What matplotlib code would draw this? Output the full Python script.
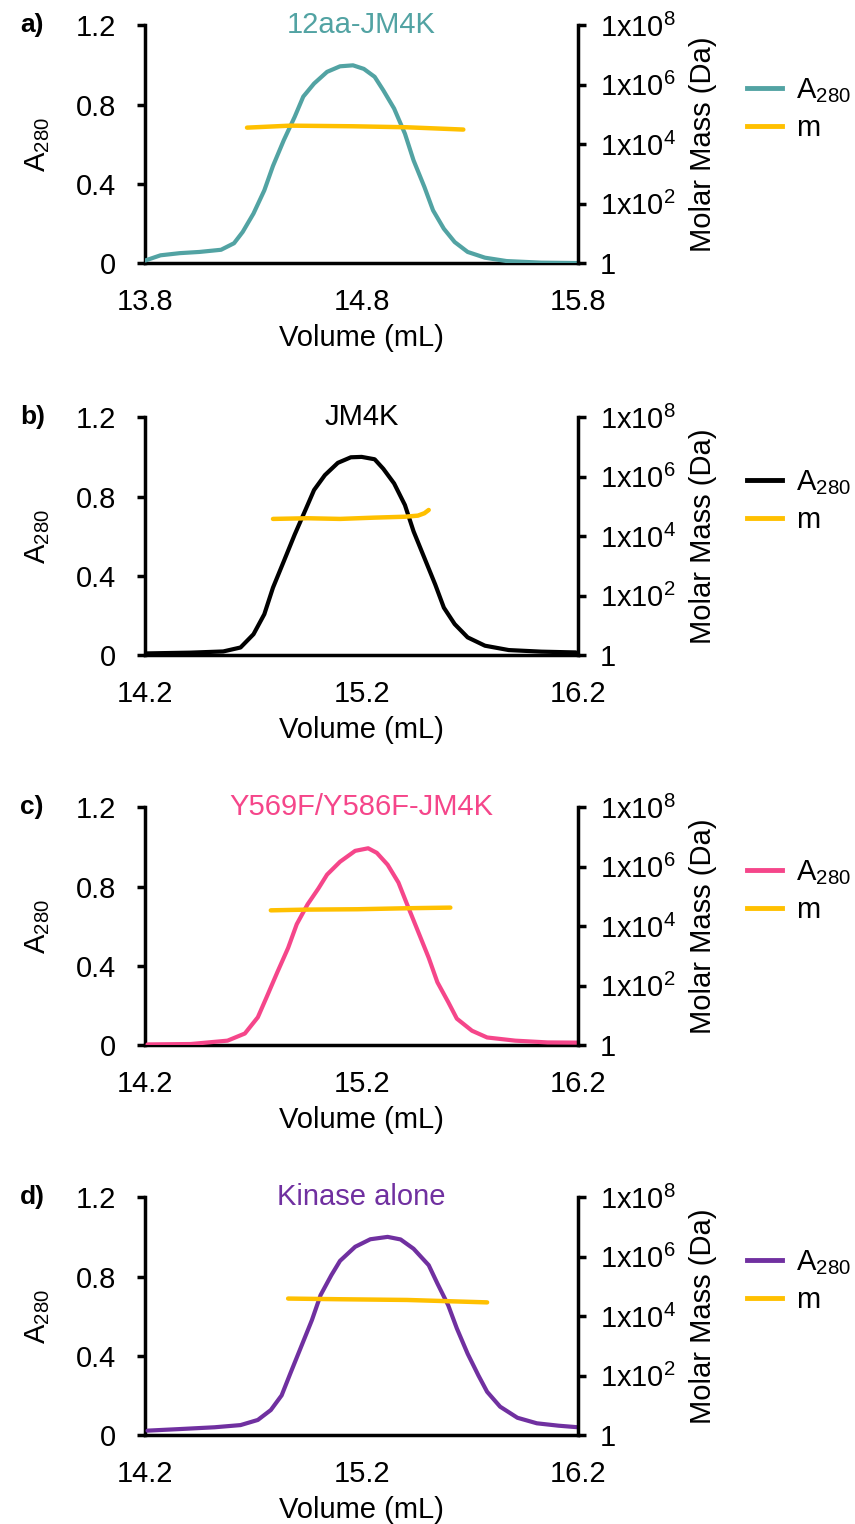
import matplotlib
matplotlib.use("Agg")
import matplotlib.pyplot as plt
from matplotlib.lines import Line2D

plt.rcParams['font.family'] = ['Liberation Sans', 'DejaVu Sans']
plt.rcParams['mathtext.fontset'] = 'custom'
plt.rcParams['mathtext.rm'] = 'Liberation Sans'
plt.rcParams['mathtext.it'] = 'Liberation Sans'

################################################
# Data

titles = ['12aa-JM4K', 'JM4K', 'Y569F/Y586F-JM4K', 'Kinase alone']
panel_tags = ['a)', 'b)', 'c)', 'd)']
colors = ['#52A3A3', '#000000', '#F5468A', '#7030A0']
mass_color = '#FFC000'
xlims = [(13.8, 15.8), (14.2, 16.2), (14.2, 16.2), (14.2, 16.2)]
xticks = [[13.8, 14.8, 15.8], [14.2, 15.2, 16.2], [14.2, 15.2, 16.2], [14.2, 15.2, 16.2]]

# A280 traces
vol_a = [13.80, 13.87, 13.96, 14.05, 14.15, 14.21, 14.25, 14.30, 14.35, 14.39, 14.44,
         14.49, 14.53, 14.58, 14.64, 14.70, 14.76, 14.81, 14.86, 14.90, 14.95, 15.00,
         15.04, 15.09, 15.13, 15.18, 15.23, 15.29, 15.37, 15.47, 15.63, 15.80]
abs_a = [0.013, 0.039, 0.050, 0.056, 0.067, 0.100, 0.157, 0.250, 0.367, 0.490, 0.620,
         0.737, 0.840, 0.906, 0.965, 0.993, 0.998, 0.980, 0.940, 0.872, 0.780, 0.653,
         0.518, 0.384, 0.266, 0.173, 0.106, 0.056, 0.027, 0.010, 0.002, 0.000]

vol_b = [14.20, 14.41, 14.56, 14.64, 14.70, 14.75, 14.79, 14.84, 14.89, 14.94, 14.98,
         15.03, 15.09, 15.15, 15.20, 15.26, 15.30, 15.35, 15.40, 15.44, 15.49, 15.54,
         15.58, 15.63, 15.69, 15.77, 15.88, 16.03, 16.19]
abs_b = [0.008, 0.012, 0.018, 0.038, 0.105, 0.206, 0.340, 0.473, 0.607, 0.732, 0.833,
         0.908, 0.970, 0.998, 1.000, 0.988, 0.940, 0.866, 0.757, 0.624, 0.490, 0.356,
         0.239, 0.156, 0.089, 0.047, 0.025, 0.017, 0.013]

vol_c = [14.21, 14.41, 14.58, 14.66, 14.72, 14.76, 14.81, 14.86, 14.90, 14.95, 15.00,
         15.04, 15.10, 15.17, 15.23, 15.27, 15.32, 15.37, 15.41, 15.46, 15.51, 15.55,
         15.60, 15.64, 15.71, 15.78, 15.91, 16.06, 16.20]
abs_c = [0.003, 0.005, 0.022, 0.058, 0.140, 0.240, 0.367, 0.490, 0.610, 0.710, 0.790,
         0.860, 0.925, 0.980, 0.993, 0.970, 0.910, 0.820, 0.710, 0.575, 0.440, 0.317,
         0.217, 0.133, 0.072, 0.038, 0.022, 0.013, 0.012]

vol_d = [14.21, 14.36, 14.52, 14.64, 14.72, 14.78, 14.83, 14.87, 14.92, 14.97, 15.01,
         15.06, 15.10, 15.17, 15.24, 15.32, 15.38, 15.44, 15.51, 15.55, 15.60, 15.64,
         15.69, 15.74, 15.78, 15.84, 15.92, 16.01, 16.11, 16.20]
abs_d = [0.022, 0.030, 0.039, 0.050, 0.076, 0.126, 0.200, 0.310, 0.445, 0.580, 0.706,
         0.807, 0.879, 0.950, 0.988, 1.000, 0.987, 0.940, 0.857, 0.765, 0.655, 0.538,
         0.410, 0.300, 0.218, 0.143, 0.087, 0.059, 0.047, 0.039]

# molar mass traces (Da)
mvol_a = [14.27, 14.47, 14.76, 15.01, 15.27]
mass_a = [3.6e4, 4.2e4, 4.0e4, 3.7e4, 3.1e4]
mvol_b = [14.79, 14.95, 15.10, 15.26, 15.40, 15.46, 15.49, 15.51]
mass_b = [3.8e4, 4.0e4, 3.8e4, 4.2e4, 4.5e4, 4.9e4, 5.9e4, 7.6e4]
mvol_c = [14.78, 14.95, 15.18, 15.41, 15.61]
mass_c = [3.4e4, 3.6e4, 3.7e4, 4.0e4, 4.2e4]
mvol_d = [14.86, 15.10, 15.41, 15.78]
mass_d = [3.9e4, 3.7e4, 3.5e4, 2.9e4]

vols = [vol_a, vol_b, vol_c, vol_d]
absorb = [abs_a, abs_b, abs_c, abs_d]
mvols = [mvol_a, mvol_b, mvol_c, mvol_d]
masses = [mass_a, mass_b, mass_c, mass_d]

left_ticks = [0, 0.4, 0.8, 1.2]
left_labels = ['0', '0.4', '0.8', '1.2']
right_ticks = [1, 1e2, 1e4, 1e6, 1e8]
right_labels = ['1', r'1x10$^{2}$', r'1x10$^{4}$', r'1x10$^{6}$', r'1x10$^{8}$']

################################################
# Figure

fig = plt.figure(figsize=(8.55, 15.24), dpi=100)
bottoms = [0.8274, 0.5702, 0.3143, 0.0584]
fs = 21

for i in range(4):
    ax = fig.add_axes([0.170, bottoms[i], 0.506, 0.156])
    ax2 = ax.twinx()

    ax.plot(vols[i], absorb[i], color=colors[i], lw=3.0, solid_capstyle='round',
            solid_joinstyle='round', zorder=3)
    ax2.plot(mvols[i], masses[i], color=mass_color, lw=3.2, solid_capstyle='round',
             solid_joinstyle='round', zorder=4)

    ax.set_xlim(*xlims[i])
    ax.set_ylim(0, 1.2)
    ax.set_xticks(xticks[i])
    ax.set_xticklabels(['{:.1f}'.format(t) for t in xticks[i]])
    ax.set_yticks(left_ticks)
    ax.set_yticklabels(left_labels)
    ax2.set_yscale('log')
    ax2.set_ylim(1, 1e8)
    ax2.set_yticks(right_ticks)
    ax2.set_yticklabels(right_labels)
    ax2.minorticks_off()

    for a in (ax, ax2):
        a.spines['top'].set_visible(False)
        for s in ('left', 'right', 'bottom'):
            a.spines[s].set_linewidth(2.5)
    ax.spines['right'].set_visible(False)
    ax2.spines['left'].set_visible(False)
    ax2.spines['bottom'].set_visible(False)

    ax.tick_params(axis='y', direction='out', length=6, width=2.5, labelsize=fs, pad=15)
    ax.tick_params(axis='x', length=0, labelsize=fs, pad=18)
    ax2.tick_params(axis='y', direction='out', length=6, width=2.5, labelsize=fs, pad=10)

    ax.set_xlabel('Volume (mL)', fontsize=fs, labelpad=6)
    ax.set_ylabel(r'A$_{280}$', fontsize=fs, labelpad=17)
    ax2.set_ylabel('Molar Mass (Da)', fontsize=fs, labelpad=9)

    ax.text(0.5, 1.0, titles[i], transform=ax.transAxes, color=colors[i],
            fontsize=fs, ha='center', va='center')
    ax.text(-0.29, 1.0, panel_tags[i], transform=ax.transAxes, fontsize=19,
            fontweight='bold', ha='left', va='center')

    handles = [Line2D([], [], color=colors[i], lw=3.5),
               Line2D([], [], color=mass_color, lw=3.5)]
    ax2.legend(handles, [r'A$_{280}$', 'm'], loc='upper left', bbox_to_anchor=(1.39, 0.785),
               frameon=False, fontsize=fs, handlelength=1.2, handletextpad=0.5,
               labelspacing=0.3, borderaxespad=0, borderpad=0)

fig.savefig('out.png', dpi=100)
